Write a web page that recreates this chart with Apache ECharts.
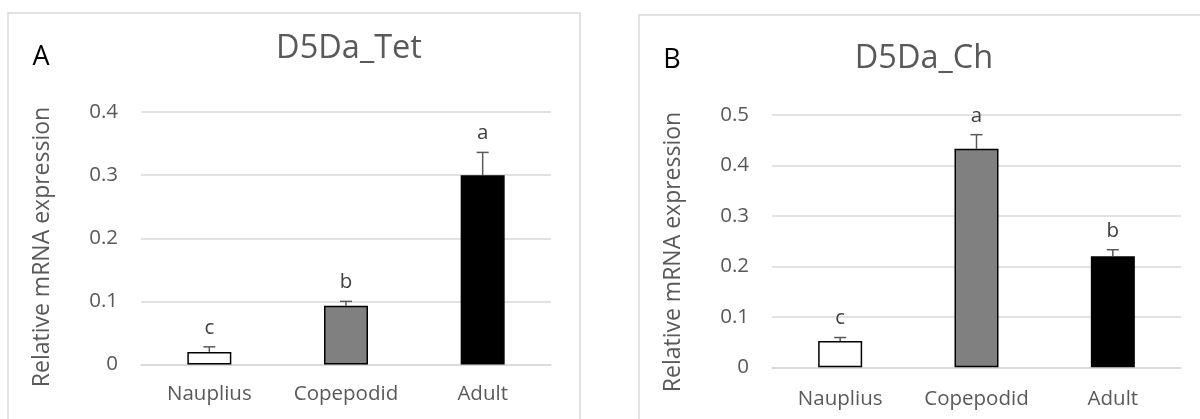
<!DOCTYPE html>
<html>
<head>
<meta charset="utf-8">
<script src="https://cdn.jsdelivr.net/npm/echarts@6/dist/echarts.min.js"></script>
<style>
  html, body { margin: 0; padding: 0; background: #ffffff; }
  #chart { width: 1200px; height: 419px; }
</style>
</head>
<body>
<div id="chart"></div>
<script>
// Life stages on the x axis
const stages = ['Nauplius', 'Copepodid', 'Adult'];

// Panel A: D5Da_Tet
const tetMean = [0.02, 0.093, 0.30];
const tetErr = [0.008, 0.007, 0.036];
const tetLetters = ['c', 'b', 'a'];
const tetTicks = [0, 0.1, 0.2, 0.3, 0.4];

// Panel B: D5Da_Ch
const chMean = [0.052, 0.433, 0.220];
const chErr = [0.007, 0.028, 0.013];
const chLetters = ['c', 'a', 'b'];
const chTicks = [0, 0.1, 0.2, 0.3, 0.4, 0.5];

// Fill per stage
const barFills = ['#ffffff', '#808080', '#000000'];

const FONT = '"Open Sans", "Noto Sans", sans-serif';
const GRID_COLOR = '#d9d9d9';
const TEXT_GRAY = '#595959';

function barSeries(idx, means) {
  return {
    type: 'bar',
    xAxisIndex: idx,
    yAxisIndex: idx,
    barWidth: 44,
    data: means.map((v, i) => ({
      value: v,
      itemStyle: { color: barFills[i], borderColor: '#000000', borderWidth: 1.5 }
    })),
    z: 2
  };
}

// Error whiskers with significance letters above them
function errSeries(idx, means, errs, letters) {
  return {
    type: 'custom',
    xAxisIndex: idx,
    yAxisIndex: idx,
    data: means.map((m, i) => [i, m, errs[i]]),
    z: 3,
    renderItem: function (params, api) {
      const i = api.value(0);
      const m = api.value(1);
      const e = api.value(2);
      const base = api.coord([i, m]);
      const top = api.coord([i, m + e]);
      const cap = 6;
      const st = { stroke: '#595959', lineWidth: 1.5 };
      return {
        type: 'group',
        children: [
          { type: 'line', shape: { x1: top[0], y1: base[1], x2: top[0], y2: top[1] }, style: st },
          { type: 'line', shape: { x1: top[0] - cap, y1: top[1], x2: top[0] + cap, y2: top[1] }, style: st },
          {
            type: 'text',
            x: top[0], y: top[1] - 19,
            style: {
              text: letters[i], fill: '#404040', font: '20.5px ' + FONT,
              textAlign: 'center', textVerticalAlign: 'middle'
            }
          }
        ]
      };
    }
  };
}

function yAxisCfg(idx, ticks) {
  return {
    type: 'value',
    gridIndex: idx,
    min: ticks[0],
    max: ticks[ticks.length - 1],
    interval: ticks[1] - ticks[0],
    axisLine: { show: false },
    axisTick: { show: false },
    splitLine: { lineStyle: { color: GRID_COLOR, width: 1.5 } },
    axisLabel: {
      margin: 23, color: TEXT_GRAY, fontSize: 20.5, fontFamily: FONT,
      formatter: v => String(Math.round(v * 10) / 10)
    }
  };
}

function xAxisCfg(idx, margin) {
  return {
    type: 'category',
    gridIndex: idx,
    data: stages,
    axisLine: { show: true, lineStyle: { color: GRID_COLOR, width: 1.5 } },
    axisTick: { show: false },
    axisLabel: { margin: margin, color: TEXT_GRAY, fontSize: 20.5, fontFamily: FONT }
  };
}

const chart = echarts.init(document.getElementById('chart'), null, { renderer: 'canvas' });

chart.setOption({
  backgroundColor: '#ffffff',
  animation: false,
  grid: [
    { left: 141, top: 112, width: 410, height: 252.5 },
    { left: 772, top: 115, width: 409, height: 252.3 }
  ],
  xAxis: [xAxisCfg(0, 19), xAxisCfg(1, 21)],
  yAxis: [yAxisCfg(0, tetTicks), yAxisCfg(1, chTicks)],
  series: [
    barSeries(0, tetMean),
    errSeries(0, tetMean, tetErr, tetLetters),
    barSeries(1, chMean),
    errSeries(1, chMean, chErr, chLetters)
  ],
  graphic: [
    // Panel frames
    { type: 'rect', shape: { x: 8, y: 13, width: 572, height: 430 },
      style: { fill: 'none', stroke: GRID_COLOR, lineWidth: 1.5 }, z: -1 },
    { type: 'rect', shape: { x: 639, y: 15, width: 600, height: 430 },
      style: { fill: 'none', stroke: GRID_COLOR, lineWidth: 1.5 }, z: -1 },
    // Panel letters
    { type: 'text', x: 41, y: 57, style: { text: 'A', fill: '#000000', font: '27px ' + FONT, textAlign: 'center', textVerticalAlign: 'middle' } },
    { type: 'text', x: 672, y: 60, style: { text: 'B', fill: '#000000', font: '27px ' + FONT, textAlign: 'center', textVerticalAlign: 'middle' } },
    // Titles
    { type: 'text', x: 349, y: 49, style: { text: 'D5Da_Tet', fill: TEXT_GRAY, font: '32.5px ' + FONT, textAlign: 'center', textVerticalAlign: 'middle' } },
    { type: 'text', x: 924, y: 59, style: { text: 'D5Da_Ch', fill: TEXT_GRAY, font: '32.5px ' + FONT, textAlign: 'center', textVerticalAlign: 'middle' } },
    // Y axis names
    { type: 'text', x: 42, y: 247, rotation: Math.PI / 2,
      style: { text: 'Relative mRNA expression', fill: TEXT_GRAY, font: '23px ' + FONT, textAlign: 'center', textVerticalAlign: 'middle' } },
    { type: 'text', x: 673, y: 252, rotation: Math.PI / 2,
      style: { text: 'Relative mRNA expression', fill: TEXT_GRAY, font: '23px ' + FONT, textAlign: 'center', textVerticalAlign: 'middle' } }
  ]
});
</script>
</body>
</html>
